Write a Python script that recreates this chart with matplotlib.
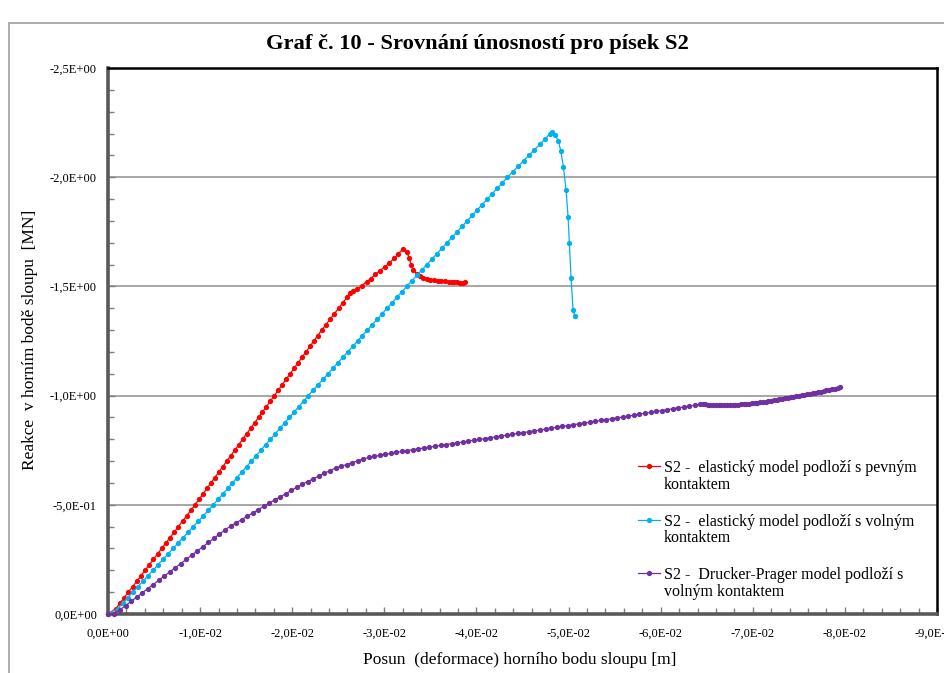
import numpy as np
import matplotlib
matplotlib.use("Agg")
import matplotlib.pyplot as plt
from matplotlib.ticker import MultipleLocator, FuncFormatter
from matplotlib.patches import Rectangle
from matplotlib.legend_handler import HandlerLine2D

plt.rcParams['font.family'] = ['Liberation Serif', 'DejaVu Serif']

# S2 - elastický model podloží s pevným kontaktem (|posun| [m], |reakce| [MN])
red_x = [0, 0.00085, 0.00131, 0.00176, 0.00221, 0.00266, 0.00312, 0.00357, 0.00402, 0.00447,
         0.00493, 0.00538, 0.00583, 0.00628, 0.00674, 0.00719, 0.00764, 0.00809, 0.00855, 0.00900,
         0.00945, 0.00988, 0.01031, 0.01074, 0.01117, 0.01160, 0.01203, 0.01246, 0.01289, 0.01332,
         0.01376, 0.01419, 0.01462, 0.01505, 0.01548, 0.01591, 0.01634, 0.01677, 0.01720, 0.01763,
         0.01806, 0.01849, 0.01892, 0.01934, 0.01977, 0.02020, 0.02063, 0.02106, 0.02149, 0.02192,
         0.02234, 0.02277, 0.02320, 0.02366, 0.02412, 0.02457, 0.02503, 0.02549, 0.02595, 0.02628,
         0.02665, 0.02700, 0.02753, 0.02807, 0.02851, 0.02902, 0.02953, 0.03004, 0.03054, 0.03105,
         0.03152, 0.03200, 0.03243, 0.03272, 0.03290, 0.03315, 0.03352, 0.03390, 0.03424, 0.03460,
         0.03500, 0.03540, 0.03580, 0.03620, 0.03660, 0.03700, 0.03730, 0.03760, 0.03790, 0.03820,
         0.03850, 0.03880]
red_y = [0, 0.025, 0.05, 0.075, 0.1, 0.125, 0.15, 0.175, 0.2, 0.225,
         0.25, 0.275, 0.3, 0.325, 0.35, 0.375, 0.4, 0.425, 0.45, 0.475,
         0.5, 0.525, 0.55, 0.575, 0.6, 0.625, 0.65, 0.675, 0.7, 0.725,
         0.75, 0.775, 0.8, 0.825, 0.85, 0.875, 0.9, 0.925, 0.95, 0.975,
         1.0, 1.025, 1.05, 1.075, 1.1, 1.125, 1.15, 1.175, 1.2, 1.225,
         1.25, 1.275, 1.3, 1.325, 1.35, 1.375, 1.4, 1.425, 1.45, 1.468,
         1.478, 1.487, 1.502, 1.522, 1.535, 1.555, 1.572, 1.590, 1.606, 1.629,
         1.648, 1.671, 1.659, 1.629, 1.598, 1.575, 1.557, 1.546, 1.537, 1.533,
         1.530, 1.528, 1.527, 1.525, 1.524, 1.522, 1.521, 1.520, 1.518, 1.516,
         1.516, 1.518]

# S2 - elastický model podloží s volným kontaktem
blue_x = [0, 0.00105, 0.00159, 0.00214, 0.00269, 0.00324, 0.00378, 0.00433, 0.00488, 0.00542,
          0.00597, 0.00652, 0.00706, 0.00761, 0.00816, 0.00871, 0.00925, 0.00980, 0.01035, 0.01089,
          0.01144, 0.01196, 0.01247, 0.01299, 0.01350, 0.01402, 0.01453, 0.01505, 0.01556, 0.01608,
          0.01660, 0.01711, 0.01763, 0.01814, 0.01866, 0.01917, 0.01969, 0.02020, 0.02072, 0.02124,
          0.02175, 0.02228, 0.02282, 0.02335, 0.02389, 0.02442, 0.02495, 0.02549, 0.02602, 0.02656,
          0.02709, 0.02762, 0.02816, 0.02869, 0.02923, 0.02976, 0.03029, 0.03083, 0.03136, 0.03190,
          0.03243, 0.03298, 0.03352, 0.03407, 0.03462, 0.03516, 0.03571, 0.03626, 0.03680, 0.03735,
          0.03790, 0.03844, 0.03899, 0.03954, 0.04008, 0.04063, 0.04118, 0.04172, 0.04227, 0.04282,
          0.04336, 0.04394, 0.04453, 0.04511, 0.04569, 0.04628, 0.04686, 0.04744, 0.04800, 0.04822,
          0.04853, 0.04889, 0.04915, 0.04944, 0.04973, 0.04995, 0.05009, 0.05027, 0.05049, 0.05070]
blue_y = [0, 0.025, 0.05, 0.075, 0.1, 0.125, 0.15, 0.175, 0.2, 0.225,
          0.25, 0.275, 0.3, 0.325, 0.35, 0.375, 0.4, 0.425, 0.45, 0.475,
          0.5, 0.525, 0.55, 0.575, 0.6, 0.625, 0.65, 0.675, 0.7, 0.725,
          0.75, 0.775, 0.8, 0.825, 0.85, 0.875, 0.9, 0.925, 0.95, 0.975,
          1.0, 1.025, 1.05, 1.075, 1.1, 1.125, 1.15, 1.175, 1.2, 1.225,
          1.25, 1.275, 1.3, 1.325, 1.35, 1.375, 1.4, 1.425, 1.45, 1.475,
          1.5, 1.525, 1.55, 1.575, 1.6, 1.625, 1.65, 1.675, 1.7, 1.725,
          1.75, 1.775, 1.8, 1.825, 1.85, 1.875, 1.9, 1.925, 1.95, 1.975,
          2.0, 2.025, 2.05, 2.075, 2.1, 2.125, 2.15, 2.175, 2.2, 2.207,
          2.193, 2.167, 2.121, 2.048, 1.941, 1.816, 1.697, 1.538, 1.392, 1.364]

# S2 - Drucker-Prager model podloží s volným kontaktem
purple_x = [0, 0.0007, 0.0013, 0.0019, 0.0025, 0.0031, 0.0037, 0.0043, 0.0049, 0.0055,
            0.0061, 0.0067, 0.0073, 0.0079, 0.0085, 0.0091, 0.0097, 0.0103, 0.0109, 0.0115,
            0.0121, 0.0127, 0.0133, 0.0139, 0.0145, 0.0151, 0.0157, 0.0163, 0.0169, 0.0175,
            0.0181, 0.0187, 0.0193, 0.0199, 0.0205, 0.0211, 0.0217, 0.0223, 0.0229, 0.0235,
            0.0241, 0.0247, 0.0253, 0.0259, 0.0265, 0.0271, 0.0277, 0.0283, 0.0289, 0.0295,
            0.0301, 0.0307, 0.0313, 0.0319, 0.0325, 0.0331, 0.0337, 0.0343, 0.0349, 0.0355,
            0.0361, 0.0367, 0.0373, 0.0379, 0.0385, 0.0391, 0.0397, 0.0403, 0.0409, 0.0415,
            0.0421, 0.0427, 0.0433, 0.0439, 0.0445, 0.0451, 0.0457, 0.0463, 0.0469, 0.0475,
            0.0481, 0.0487, 0.0493, 0.0499, 0.0505, 0.0511, 0.0517, 0.0523, 0.0529, 0.0535,
            0.0541, 0.0547, 0.0553, 0.0559, 0.0565, 0.0571, 0.0577, 0.0583, 0.0589, 0.0595,
            0.0601, 0.0607, 0.0613, 0.0619, 0.0625, 0.0631, 0.0637, 0.0643, 0.0646, 0.0648,
            0.0651, 0.0654, 0.0657, 0.0660, 0.0663, 0.0666, 0.0669, 0.0672, 0.0675, 0.0678,
            0.0681, 0.0684, 0.0687, 0.0690, 0.0693, 0.0696, 0.0699, 0.0702, 0.0705, 0.0708,
            0.0711, 0.0714, 0.0717, 0.0720, 0.0723, 0.0726, 0.0729, 0.0732, 0.0735, 0.0738,
            0.0741, 0.0744, 0.0747, 0.0750, 0.0753, 0.0756, 0.0759, 0.0762, 0.0765, 0.0768,
            0.0771, 0.0774, 0.0777, 0.0780, 0.0783, 0.0786, 0.0789, 0.0792, 0.0795]
purple_y = [0, 0, 0.0193, 0.0385, 0.0578, 0.0770, 0.0963, 0.1156, 0.1348, 0.1541,
            0.1733, 0.1926, 0.2119, 0.2311, 0.2504, 0.2696, 0.2889, 0.3082, 0.3274, 0.3467,
            0.3659, 0.3852, 0.4020, 0.4171, 0.4322, 0.4472, 0.4623, 0.4774, 0.4925, 0.5073,
            0.5219, 0.5365, 0.5510, 0.5656, 0.5802, 0.5942, 0.6066, 0.6191, 0.6317, 0.6442,
            0.6567, 0.6678, 0.6761, 0.6845, 0.6928, 0.7011, 0.7094, 0.7166, 0.7212, 0.7259,
            0.7306, 0.7352, 0.7399, 0.7443, 0.7482, 0.7521, 0.7560, 0.7599, 0.7638, 0.7677,
            0.7716, 0.7755, 0.7794, 0.7833, 0.7872, 0.7911, 0.7950, 0.7990, 0.8029, 0.8069,
            0.8109, 0.8148, 0.8188, 0.8227, 0.8267, 0.8307, 0.8346, 0.8386, 0.8425, 0.8465,
            0.8505, 0.8546, 0.8586, 0.8625, 0.8665, 0.8705, 0.8744, 0.8784, 0.8823, 0.8863,
            0.8903, 0.8942, 0.8982, 0.9021, 0.9063, 0.9105, 0.9147, 0.9189, 0.9231, 0.9273,
            0.9315, 0.9357, 0.9399, 0.9441, 0.9483, 0.9525, 0.9567, 0.9609, 0.9625, 0.9605,
            0.9585, 0.9570, 0.9560, 0.9553, 0.9550, 0.9550, 0.9552, 0.9556, 0.9561, 0.9567,
            0.9574, 0.9583, 0.9593, 0.9604, 0.9616, 0.9629, 0.9643, 0.9657, 0.9672, 0.9690,
            0.9709, 0.9729, 0.9750, 0.9771, 0.9792, 0.9813, 0.9834, 0.9855, 0.9876, 0.9898,
            0.9920, 0.9942, 0.9964, 0.9987, 1.0010, 1.0033, 1.0057, 1.0081, 1.0106, 1.0131,
            1.0157, 1.0183, 1.0210, 1.0237, 1.0264, 1.0292, 1.0320, 1.0349, 1.0378]

labels = ["S2 -  elastický model podloží s pevným\nkontaktem",
          "S2 -  elastický model podloží s volným\nkontaktem",
          "S2 -  Drucker-Prager model podloží s\nvolným kontaktem"]
colors = ["#ff0000", "#00b0f0", "#7030a0"]

x_ticks = [0, -0.01, -0.02, -0.03, -0.04, -0.05, -0.06, -0.07, -0.08, -0.09]
y_ticks = [0, -0.5, -1.0, -1.5, -2.0, -2.5]

W, H = 945, 673
fig = plt.figure(figsize=(W / 100, H / 100), dpi=100)
ax = fig.add_axes([108 / W, 1 - 614 / H, (937 - 108) / W, (614 - 68) / H])

series = [(red_x, red_y), (blue_x, blue_y), (purple_x, purple_y)]
for (sx, sy), col, lab in zip(series, colors, labels):
    ax.plot(-np.array(sx), -np.array(sy), color=col, lw=0.9, marker='o',
            markersize=3.8, markeredgewidth=0, label=lab, zorder=3, clip_on=False)

ax.set_xlim(0, -0.09)
ax.set_ylim(0, -2.5)
ax.set_xticks(x_ticks)
ax.set_yticks(y_ticks)
ax.xaxis.set_minor_locator(MultipleLocator(0.002))
ax.yaxis.set_minor_locator(MultipleLocator(0.1))


def sci_comma(v, pos):
    if abs(v) < 1e-12:
        return "0,0E+00"
    return f"{v:.1E}".replace(".", ",")


ax.xaxis.set_major_formatter(FuncFormatter(sci_comma))
ax.yaxis.set_major_formatter(FuncFormatter(sci_comma))
ax.tick_params(which='both', direction='in', color='#7f7f7f', labelsize=9)
ax.tick_params(which='major', length=5, width=1)
ax.tick_params(which='minor', length=4, width=1)
ax.tick_params(axis='x', pad=10)
ax.tick_params(axis='y', pad=8)

ax.yaxis.grid(True, which='major', color='#a6a6a6', lw=1.4)
ax.set_axisbelow(True)

for side in ('left', 'bottom'):
    ax.spines[side].set_color('#595959')
    ax.spines[side].set_linewidth(2.6)
for side in ('top', 'right'):
    ax.spines[side].set_color('black')
    ax.spines[side].set_linewidth(1.8)


class FirstLineHandler(HandlerLine2D):
    """Legend key placed level with the first line of a two-line label."""

    def create_artists(self, legend, orig_handle, xdescent, ydescent, width,
                       height, fontsize, trans):
        arts = super().create_artists(legend, orig_handle, xdescent, ydescent,
                                      width, height, fontsize, trans)
        for a in arts:
            a.set_ydata(np.asarray(a.get_ydata(), dtype=float) + 0.66 * fontsize)
        return arts


handles = ax.get_lines()
leg = ax.legend(handles=handles, loc='upper left', bbox_to_anchor=(638 / W, 1 - 460 / H),
                bbox_transform=fig.transFigure, frameon=False,
                prop={'family': 'Liberation Serif', 'size': 11.5},
                handlelength=1.4, handletextpad=0.2, labelspacing=1.3,
                borderpad=0, borderaxespad=0,
                handler_map={h: FirstLineHandler() for h in handles})
for t in leg.get_texts():
    t.set_linespacing(1.07)

fig.text(0.505, 1 - 44 / H, "Graf č. 10 - Srovnání únosností pro písek S2",
         ha='center', va='center', fontsize=16.2, fontweight='bold')
fig.text(520 / W, 1 - 660 / H, "Posun  (deformace) horního bodu sloupu [m]",
         ha='center', va='center', fontsize=12.5)
fig.text(30 / W, 1 - 340 / H, "Reakce  v horním bodě sloupu  [MN]",
         ha='center', va='center', rotation=90, fontsize=12.5)

# outer chart-area frame
fig.add_artist(Rectangle((9 / W, -0.1), 1.2, 1.1 - 23 / H, transform=fig.transFigure,
                         fill=False, edgecolor='#a0a0a0', lw=1.2, clip_on=False))

fig.savefig("out.png", dpi=100)
